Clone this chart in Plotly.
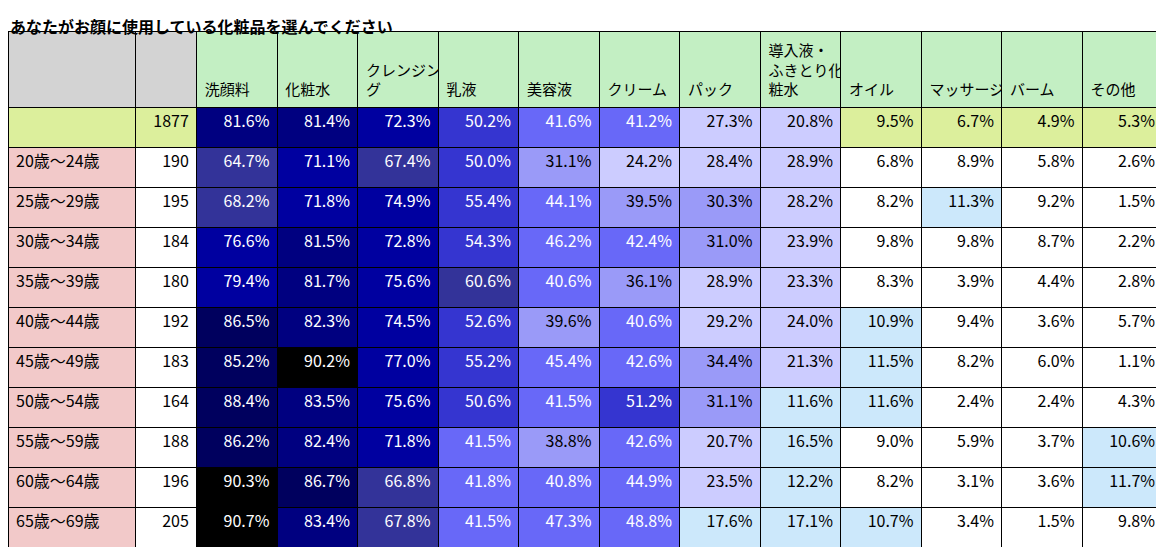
import plotly.graph_objects as go

title = "あなたがお顔に使用している化粧品を選んでください"
items = ["洗顔料", "化粧水", "クレンジング", "乳液", "美容液", "クリーム", "パック",
         "導入液・ふきとり化粧水", "オイル", "マッサージ", "バーム", "その他"]
header_text = ["", "", "&nbsp;<br>&nbsp;<br>洗顔料", "&nbsp;<br>&nbsp;<br>化粧水", "&nbsp;<br>クレンジン<br>グ",
               "&nbsp;<br>&nbsp;<br>乳液", "&nbsp;<br>&nbsp;<br>美容液", "&nbsp;<br>&nbsp;<br>クリーム",
               "&nbsp;<br>&nbsp;<br>パック", "導入液・<br>ふきとり化<br>粧水",
               "&nbsp;<br>&nbsp;<br>オイル", "&nbsp;<br>&nbsp;<br>マッサージ", "&nbsp;<br>&nbsp;<br>バーム",
               "&nbsp;<br>&nbsp;<br>その他"]

groups = ["", "20歳～24歳", "25歳～29歳", "30歳～34歳", "35歳～39歳", "40歳～44歳",
          "45歳～49歳", "50歳～54歳", "55歳～59歳", "60歳～64歳", "65歳～69歳"]
counts = [1877, 190, 195, 184, 180, 192, 183, 164, 188, 196, 205]

total = [81.6, 81.4, 72.3, 50.2, 41.6, 41.2, 27.3, 20.8, 9.5, 6.7, 4.9, 5.3]
age_20 = [64.7, 71.1, 67.4, 50.0, 31.1, 24.2, 28.4, 28.9, 6.8, 8.9, 5.8, 2.6]
age_25 = [68.2, 71.8, 74.9, 55.4, 44.1, 39.5, 30.3, 28.2, 8.2, 11.3, 9.2, 1.5]
age_30 = [76.6, 81.5, 72.8, 54.3, 46.2, 42.4, 31.0, 23.9, 9.8, 9.8, 8.7, 2.2]
age_35 = [79.4, 81.7, 75.6, 60.6, 40.6, 36.1, 28.9, 23.3, 8.3, 3.9, 4.4, 2.8]
age_40 = [86.5, 82.3, 74.5, 52.6, 39.6, 40.6, 29.2, 24.0, 10.9, 9.4, 3.6, 5.7]
age_45 = [85.2, 90.2, 77.0, 55.2, 45.4, 42.6, 34.4, 21.3, 11.5, 8.2, 6.0, 1.1]
age_50 = [88.4, 83.5, 75.6, 50.6, 41.5, 51.2, 31.1, 11.6, 11.6, 2.4, 2.4, 4.3]
age_55 = [86.2, 82.4, 71.8, 41.5, 38.8, 42.6, 20.7, 16.5, 9.0, 5.9, 3.7, 10.6]
age_60 = [90.3, 86.7, 66.8, 41.8, 40.8, 44.9, 23.5, 12.2, 8.2, 3.1, 3.6, 11.7]
age_65 = [90.7, 83.4, 67.8, 41.5, 47.3, 48.8, 17.6, 17.1, 10.7, 3.4, 1.5, 9.8]
rows = [total, age_20, age_25, age_30, age_35, age_40, age_45, age_50, age_55, age_60, age_65]


def fill_for(v, first_row):
    if v >= 90: return "#000000"
    if v >= 85: return "#00005e"
    if v >= 80: return "#000080"
    if v >= 70: return "#0000a0"
    if v >= 60: return "#333399"
    if v >= 50: return "#3535d0"
    if v >= 40: return "#6868f8"
    if v >= 30: return "#9a9af8"
    if v >= 20: return "#ccccff"
    if first_row: return "#dcef9c"
    if v >= 10.5: return "#cce8fb"
    return "#ffffff"


def font_for(v):
    return "white" if v >= 40 else "black"


ncol = len(items)
cell_values = [groups, [str(c) for c in counts]]
fills = [["#dcef9c"] + ["#f2c9c9"] * 10, ["#dcef9c"] + ["#ffffff"] * 10]
fcolors = [["black"] * 11, ["black"] * 11]
for j in range(ncol):
    col = [r[j] for r in rows]
    cell_values.append(["%.1f%%" % v for v in col])
    fills.append([fill_for(v, i == 0) for i, v in enumerate(col)])
    fcolors.append([font_for(v) for v in col])

fig = go.Figure(go.Table(
    columnwidth=[128, 62] + [81] * ncol,
    header=dict(values=header_text,
                fill_color=["#d3d3d3", "#d3d3d3"] + ["#c3efc3"] * ncol,
                line_color="black", height=74, align="left",
                font=dict(size=15, color="black", family="Noto Sans CJK JP")),
    cells=dict(values=cell_values, fill_color=fills, line_color="black",
               height=40, align=["left"] + ["right"] * (ncol + 1),
               font=dict(size=16, color=fcolors, family="Noto Sans CJK JP")),
    domain=dict(x=[0, 0.993], y=[0, 0.965]),
))
fig.add_annotation(text="<b>" + title + "</b>", x=0, y=1, xref="paper", yref="paper",
                   xanchor="left", yanchor="top", showarrow=False,
                   font=dict(size=16, color="black", family="Noto Sans CJK JP"))
fig.update_layout(width=1164, height=547, margin=dict(l=0, r=0, t=4, b=0, pad=0),
                  paper_bgcolor="white")
fig.write_html("out.html")
